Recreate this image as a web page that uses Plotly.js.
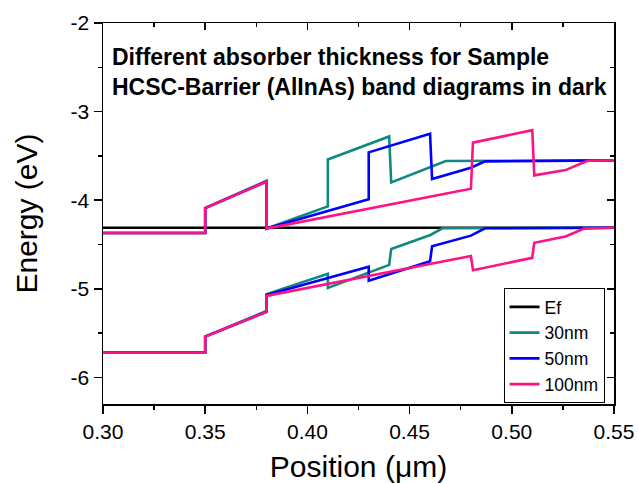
<!DOCTYPE html>
<html>
<head>
<meta charset="utf-8">
<script src="https://cdn.plot.ly/plotly-3.0.1.min.js"></script>
<style>html,body{margin:0;padding:0;background:#fff;}#chart{width:638px;height:483px;}</style>
</head>
<body>
<div id="chart"></div>
<script>
// ---- data (position in µm, energy in eV) ----
const efX = [0.30, 0.55];
const efE = [-4.31, -4.31];

const x30cb = [0.30, 0.35, 0.35, 0.38, 0.38, 0.41, 0.41, 0.44, 0.441, 0.4644, 0.4677, 0.55];
const e30cb = [-4.37, -4.37, -4.09, -3.78, -4.32, -4.07, -3.54, -3.28, -3.80, -3.595, -3.558, -3.55];
const x30vb = [0.30, 0.35, 0.35, 0.38, 0.38, 0.41, 0.41, 0.44, 0.441, 0.4602, 0.4660, 0.55];
const e30vb = [-5.72, -5.72, -5.54, -5.25, -5.06, -4.83, -4.99, -4.73, -4.55, -4.392, -4.317, -4.31];

const x50cb = [0.30, 0.35, 0.35, 0.38, 0.38, 0.43, 0.43, 0.46, 0.461, 0.48, 0.4869, 0.55];
const e50cb = [-4.37, -4.37, -4.09, -3.79, -4.32, -3.99, -3.46, -3.25, -3.76, -3.634, -3.562, -3.55];
const x50vb = [0.30, 0.35, 0.35, 0.38, 0.38, 0.43, 0.43, 0.46, 0.461, 0.48, 0.4869, 0.55];
const e50vb = [-5.72, -5.72, -5.54, -5.26, -5.07, -4.75, -4.91, -4.69, -4.52, -4.40, -4.317, -4.31];

const x100cb = [0.30, 0.35, 0.35, 0.38, 0.38, 0.48, 0.481, 0.51, 0.511, 0.5263, 0.5347, 0.5372, 0.55];
const e100cb = [-4.37, -4.37, -4.09, -3.79, -4.32, -3.87, -3.35, -3.21, -3.72, -3.66, -3.577, -3.555, -3.55];
const x100vb = [0.30, 0.35, 0.35, 0.38, 0.38, 0.48, 0.481, 0.51, 0.511, 0.5263, 0.5354, 0.55];
const e100vb = [-5.72, -5.72, -5.54, -5.26, -5.08, -4.63, -4.79, -4.65, -4.48, -4.41, -4.321, -4.31];

const seriesNames = ['Ef', '30nm', '50nm', '100nm'];
const seriesColors = ['#000000', '#108a80', '#0000ff', '#ff1284'];

const xTickVals = [0.30, 0.35, 0.40, 0.45, 0.50, 0.55];
const xTickText = ['0.30', '0.35', '0.40', '0.45', '0.50', '0.55'];
const yTickVals = [-6, -5, -4, -3, -2];
const yTickText = ['-6', '-5', '-4', '-3', '-2'];

const titleLines = ['Different absorber thickness for Sample', 'HCSC-Barrier (AlInAs) band diagrams in dark'];

// ---- build ----
function join(a, b) { return a.concat([null], b); }
const xs = [efX, join(x30cb, x30vb), join(x50cb, x50vb), join(x100cb, x100vb)];
const ys = [efE, join(e30cb, e30vb), join(e50cb, e50vb), join(e100cb, e100vb)];

const FONT = 'Liberation Sans, Arial, Helvetica, sans-serif';
const traces = seriesNames.map((n, i) => ({
  type: 'scatter', mode: 'lines', name: n, x: xs[i], y: ys[i],
  connectgaps: false,
  line: {color: seriesColors[i], width: 2.6}
}));
// carrier for the mirrored (inside-tick) top/right axes
traces.push({type: 'scatter', mode: 'lines', x: [], y: [], xaxis: 'x2', yaxis: 'y2', showlegend: false, hoverinfo: 'skip'});

const common = {showline: true, linecolor: '#000', linewidth: 1.5, tickcolor: '#000', tickwidth: 1.5,
  showgrid: false, zeroline: false};

const layout = {
  width: 638, height: 483,
  margin: {l: 103, r: 24, t: 23, b: 79, pad: 0},
  paper_bgcolor: '#fff', plot_bgcolor: '#fff',
  font: {family: FONT, color: '#000'},
  showlegend: true,
  legend: {x: 0.9815, xanchor: 'right', y: 0.3044, yanchor: 'top',
    bgcolor: '#fff', bordercolor: '#000', borderwidth: 1,
    font: {family: FONT, size: 17.5, color: '#000'}, traceorder: 'normal'},
  xaxis: Object.assign({}, common, {
    range: [0.30, 0.55], tickmode: 'array', tickvals: xTickVals, ticktext: xTickText,
    ticks: 'outside', ticklen: 8, tickfont: {family: FONT, size: 21},
    minor: {dtick: 0.025, ticks: 'outside', ticklen: 4, tickcolor: '#000', tickwidth: 1.5},
    title: {text: 'Position (μm)', font: {family: FONT, size: 30}, standoff: 21}
  }),
  yaxis: Object.assign({}, common, {
    range: [-6.3, -2], tickmode: 'array', tickvals: yTickVals, ticktext: yTickText,
    ticks: 'outside', ticklen: 8, tickfont: {family: FONT, size: 21},
    minor: {dtick: 0.5, tick0: -2, ticks: 'outside', ticklen: 4, tickcolor: '#000', tickwidth: 1.5},
    title: {text: 'Energy (eV)', font: {family: FONT, size: 30}, standoff: 24}
  }),
  xaxis2: Object.assign({}, common, {
    overlaying: 'x', side: 'top', anchor: 'y2', range: [0.30, 0.55],
    tickmode: 'array', tickvals: xTickVals, showticklabels: false, ticks: 'inside', ticklen: 7,
    minor: {dtick: 0.025, ticks: 'inside', ticklen: 4, tickcolor: '#000', tickwidth: 1.5}
  }),
  yaxis2: Object.assign({}, common, {
    overlaying: 'y', side: 'right', anchor: 'x2', range: [-6.3, -2],
    tickmode: 'array', tickvals: yTickVals, showticklabels: false, ticks: 'inside', ticklen: 7,
    minor: {dtick: 0.5, tick0: -2, ticks: 'inside', ticklen: 4, tickcolor: '#000', tickwidth: 1.5}
  }),
  annotations: [{
    xref: 'paper', yref: 'paper', x: 0.013, y: 0.872, xanchor: 'left', yanchor: 'middle',
    align: 'left', showarrow: false,
    text: '<b>' + titleLines[0] + '</b><br><b>' + titleLines[1] + '</b>',
    font: {family: FONT, size: 23, color: '#000'}
  }]
};

Plotly.newPlot('chart', traces, layout, {staticPlot: true, displayModeBar: false});
</script>
</body>
</html>
